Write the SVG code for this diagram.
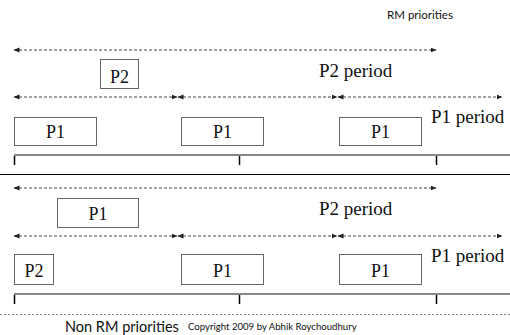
<svg xmlns="http://www.w3.org/2000/svg" width="510" height="335" viewBox="0 0 510 335">
<defs>
<marker id="ah" viewBox="0 0 6 6" refX="5.5" refY="3" markerWidth="6" markerHeight="6" markerUnits="userSpaceOnUse" orient="auto-start-reverse">
<path d="M0,0.5 L6,3 L0,5.5 Z" fill="#222"/>
</marker>
</defs>
<style>
.box{fill:#fff;stroke:#666;stroke-width:1}
.bt{font-family:'Liberation Serif','Times New Roman',serif;font-size:18px;fill:#111;text-anchor:middle}
.lbl{font-family:'Liberation Serif','Times New Roman',serif;font-size:19px;fill:#111}
.arr{stroke:#444;stroke-width:1;stroke-dasharray:3,2;fill:none;marker-start:url(#ah);marker-end:url(#ah)}
.tl{stroke:#888;stroke-width:2;fill:none}
.tick{stroke:#000;stroke-width:1.5}
.sans{font-family:Lato,'Open Sans',sans-serif;fill:#111}
</style>
<rect width="510" height="335" fill="#fff"/>
<text class="sans" x="420" y="19" font-size="11.5" text-anchor="middle">RM priorities</text>

<g id="connectors">
<line class="arr" x1="14" y1="50" x2="436" y2="50"/>
<line class="arr" x1="14" y1="97" x2="177" y2="97"/>
<line class="arr" x1="178" y1="97" x2="337" y2="97"/>
<line class="arr" x1="338" y1="97" x2="502" y2="97"/>
<line class="arr" x1="14" y1="188" x2="436" y2="188"/>
<line class="arr" x1="14" y1="236" x2="177" y2="236"/>
<line class="arr" x1="178" y1="236" x2="337" y2="236"/>
<line class="arr" x1="338" y1="236" x2="502" y2="236"/>
</g>

<g id="top-labels">
<text class="lbl" x="319" y="77">P2 period</text>
<text class="lbl" x="431" y="123">P1 period</text>
</g>

<g id="top-p2"><rect class="box" x="100.5" y="59.5" width="38" height="29"/><text class="bt" x="119.5" y="83">P2</text></g>
<g id="top-p1a"><rect class="box" x="14.5" y="117.5" width="82" height="28"/><text class="bt" x="55.5" y="138">P1</text></g>
<g id="top-p1b"><rect class="box" x="181.5" y="117.5" width="82" height="28"/><text class="bt" x="222.5" y="138">P1</text></g>
<g id="top-p1c"><rect class="box" x="339.5" y="117.5" width="82" height="28"/><text class="bt" x="380.5" y="138">P1</text></g>

<g id="top-timeline">
<line class="tl" x1="14" y1="155" x2="510" y2="155"/>
<line class="tick" x1="14.5" y1="156" x2="14.5" y2="165"/>
<line class="tick" x1="239.5" y1="156" x2="239.5" y2="165"/>
<line class="tick" x1="436.5" y1="156" x2="436.5" y2="165"/>
</g>

<line x1="0" y1="174.5" x2="510" y2="174.5" stroke="#000" stroke-width="1.2"/>

<g id="bottom-labels">
<text class="lbl" x="319" y="215">P2 period</text>
<text class="lbl" x="431" y="262">P1 period</text>
</g>

<g id="bot-p1"><rect class="box" x="57.5" y="198.5" width="81" height="29"/><text class="bt" x="98" y="220">P1</text></g>
<g id="bot-p2"><rect class="box" x="14.5" y="254.5" width="39" height="30"/><text class="bt" x="34" y="277">P2</text></g>
<g id="bot-p1b"><rect class="box" x="181.5" y="254.5" width="82" height="30"/><text class="bt" x="222.5" y="277">P1</text></g>
<g id="bot-p1c"><rect class="box" x="339.5" y="254.5" width="82" height="30"/><text class="bt" x="380.5" y="277">P1</text></g>

<g id="bottom-timeline">
<line class="tl" x1="14" y1="294" x2="510" y2="294"/>
<line class="tick" x1="14.5" y1="295" x2="14.5" y2="304"/>
<line class="tick" x1="239.5" y1="295" x2="239.5" y2="304"/>
<line class="tick" x1="436.5" y1="295" x2="436.5" y2="304"/>
</g>

<line x1="0" y1="314.5" x2="510" y2="314.5" stroke="#888" stroke-width="1" stroke-dasharray="2,2"/>
<text class="sans" x="65" y="332" font-size="14.5">Non RM priorities</text>
<text class="sans" x="188" y="330" font-size="9.6">Copyright 2009 by Abhik Roychoudhury</text>
</svg>
